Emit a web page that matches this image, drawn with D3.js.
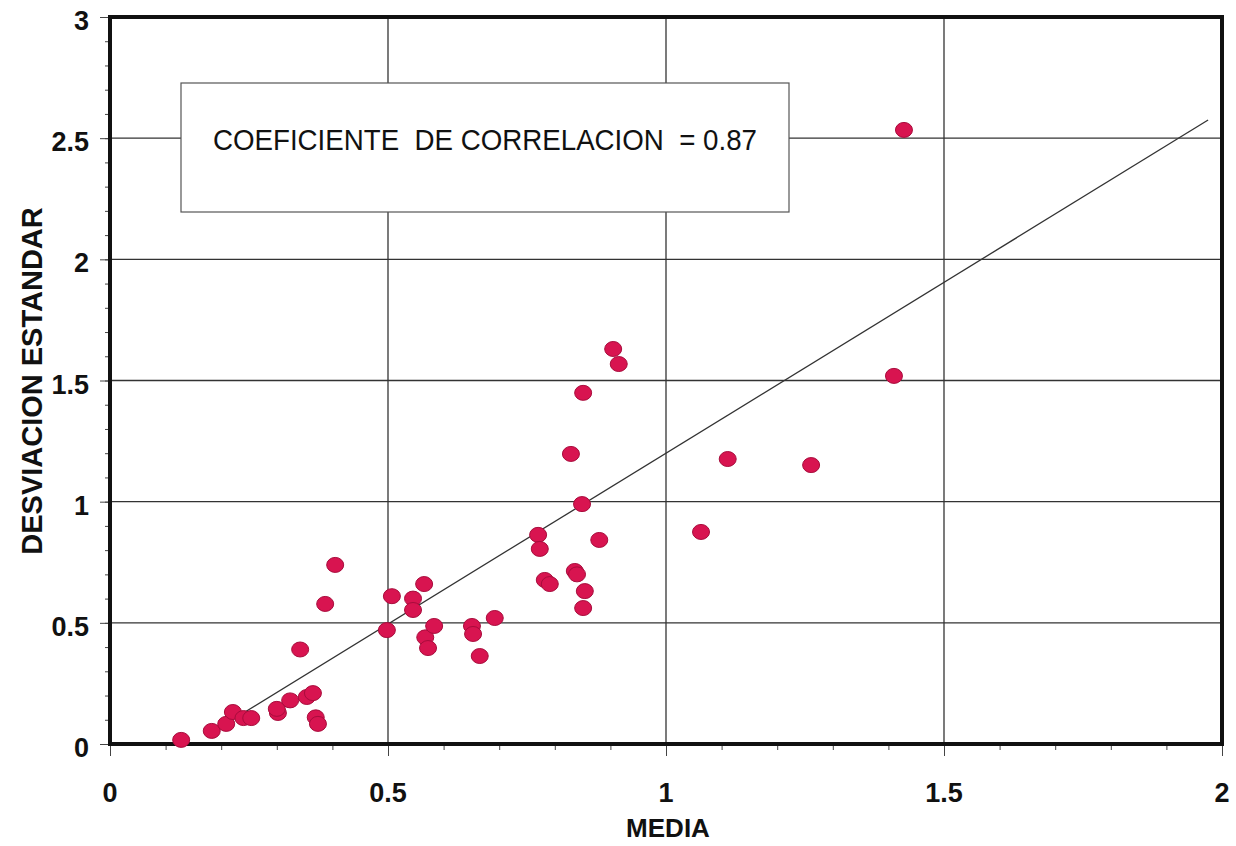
<!DOCTYPE html>
<meta charset="utf-8">
<style>
    body { margin: 0; background: #fff; }
    .tick-label { font-family: "Liberation Sans", Arial, sans-serif; font-weight: bold; font-size: 27px; fill: #111; }
    .axis-title { font-family: "Liberation Sans", Arial, sans-serif; font-weight: bold; fill: #111; }
    .grid { stroke: #333; stroke-width: 1.3px; }
</style>
<svg width="1236" height="846"></svg>
<script src="https://cdn.jsdelivr.net/npm/d3@7"></script>
<script>
    // MEDIA vs DESVIACION ESTANDAR
    var media = [0.128, 0.183, 0.209, 0.221, 0.240, 0.254, 0.302, 0.300, 0.324, 0.354,
                 0.365, 0.370, 0.374, 0.342, 0.387, 0.405, 0.498, 0.507, 0.545, 0.545,
                 0.565, 0.567, 0.572, 0.583, 0.651, 0.653, 0.665, 0.692, 0.770, 0.773,
                 0.782, 0.791, 0.836, 0.840, 0.854, 0.851, 0.880, 0.849, 0.829, 0.851,
                 0.905, 0.915, 1.063, 1.111, 1.261, 1.410, 1.428];
    var desviacion = [0.017, 0.054, 0.083, 0.132, 0.107, 0.107, 0.128, 0.145, 0.180, 0.194,
                      0.210, 0.110, 0.083, 0.390, 0.578, 0.739, 0.470, 0.610, 0.600, 0.553,
                      0.660, 0.440, 0.396, 0.487, 0.487, 0.454, 0.363, 0.520, 0.863, 0.805,
                      0.677, 0.660, 0.714, 0.700, 0.631, 0.561, 0.842, 0.990, 1.197, 1.449,
                      1.630, 1.568, 0.875, 1.176, 1.151, 1.519, 2.534];
    var xTicks = [0, 0.5, 1, 1.5, 2];
    var yTicks = [0, 0.5, 1, 1.5, 2, 2.5, 3];
    var tickLabelsX = ["0", "0.5", "1", "1.5", "2"];
    var tickLabelsY = ["0", "0.5", "1", "1.5", "2", "2.5", "3"];
    // regression line (slope, intercept, x range)
    var fitSlope = 1.41, fitIntercept = -0.21;
    var fitRange = [0.22, 1.975];
    var corrText = "COEFICIENTE  DE CORRELACION  = 0.87";

    var svg = d3.select("svg");
    var x = d3.scaleLinear().domain([0, 2]).range([110, 1222]);
    var y = d3.scaleLinear().domain([0, 3]).range([744, 17]);

    // grid
    svg.append("g").selectAll("line.v")
        .data(xTicks.slice(1, -1))
        .enter().append("line")
        .attr("class", "grid")
        .attr("x1", function (d) { return x(d); })
        .attr("x2", function (d) { return x(d); })
        .attr("y1", y(3)).attr("y2", y(0));
    svg.append("g").selectAll("line.h")
        .data(yTicks.slice(1, -1))
        .enter().append("line")
        .attr("class", "grid")
        .attr("x1", x(0)).attr("x2", x(2))
        .attr("y1", function (d) { return y(d); })
        .attr("y2", function (d) { return y(d); });

    // axes with minor ticks
    var xAxisMinor = d3.axisBottom(x).tickValues(d3.range(0, 2.01, 0.1)).tickSize(6).tickFormat("");
    var xAxisMajor = d3.axisBottom(x).tickValues(xTicks).tickSize(12).tickFormat("");
    var yAxisMinor = d3.axisLeft(y).tickValues(d3.range(0, 3.01, 0.1)).tickSize(5).tickFormat("");
    var yAxisMajor = d3.axisLeft(y).tickValues(yTicks).tickSize(10).tickFormat("");
    [xAxisMinor, xAxisMajor].forEach(function (a) {
        var g = svg.append("g").attr("transform", "translate(0," + y(0) + ")").call(a);
        g.select(".domain").remove();
        g.selectAll("line").attr("stroke", "#444").attr("stroke-width", 1);
    });
    [yAxisMinor, yAxisMajor].forEach(function (a) {
        var g = svg.append("g").attr("transform", "translate(" + x(0) + ",0)").call(a);
        g.select(".domain").remove();
        g.selectAll("line").attr("stroke", "#444").attr("stroke-width", 1);
    });

    // tick labels
    svg.append("g").selectAll("text")
        .data(xTicks)
        .enter().append("text")
        .attr("class", "tick-label")
        .attr("x", function (d) { return x(d); })
        .attr("y", 802)
        .attr("text-anchor", "middle")
        .text(function (d, i) { return tickLabelsX[i]; });
    svg.append("g").selectAll("text")
        .data(yTicks)
        .enter().append("text")
        .attr("class", "tick-label")
        .attr("x", 89)
        .attr("y", function (d) { return y(d) + 13; })
        .attr("text-anchor", "end")
        .text(function (d, i) { return tickLabelsY[i]; });

    // frame
    svg.append("rect")
        .attr("x", x(0)).attr("y", y(3))
        .attr("width", x(2) - x(0)).attr("height", y(0) - y(3))
        .attr("fill", "none").attr("stroke", "#111").attr("stroke-width", 4);

    // correlation box
    svg.append("rect")
        .attr("x", 181).attr("y", 83).attr("width", 608).attr("height", 129)
        .attr("fill", "#fff").attr("stroke", "#555").attr("stroke-width", 1.2);
    svg.append("text")
        .attr("x", 213).attr("y", 150)
        .attr("textLength", 544)
        .attr("lengthAdjust", "spacingAndGlyphs")
        .style("font-family", "'Liberation Sans', Arial, sans-serif")
        .style("font-size", "29px")
        .style("fill", "#111")
        .style("white-space", "pre")
        .attr("xml:space", "preserve")
        .text(corrText);

    // regression line
    svg.append("line")
        .attr("x1", x(fitRange[0])).attr("y1", y(fitSlope * fitRange[0] + fitIntercept))
        .attr("x2", x(fitRange[1])).attr("y2", y(fitSlope * fitRange[1] + fitIntercept))
        .attr("stroke", "#333").attr("stroke-width", 1.3);

    // points
    svg.append("g").selectAll("ellipse")
        .data(media)
        .enter().append("ellipse")
        .attr("cx", function (d) { return x(d); })
        .attr("cy", function (d, i) { return y(desviacion[i]); })
        .attr("rx", 8.5).attr("ry", 7.5)
        .attr("fill", "#d81450")
        .attr("stroke", "#a80c3c")
        .attr("stroke-width", 1);

    // axis titles
    svg.append("text")
        .attr("class", "axis-title")
        .style("font-size", "26px")
        .attr("x", 668).attr("y", 837)
        .attr("text-anchor", "middle")
        .text("MEDIA");
    svg.append("text")
        .attr("class", "axis-title")
        .style("font-size", "29px")
        .attr("transform", "translate(42,381) rotate(-90)")
        .attr("text-anchor", "middle")
        .text("DESVIACION ESTANDAR");
</script>
